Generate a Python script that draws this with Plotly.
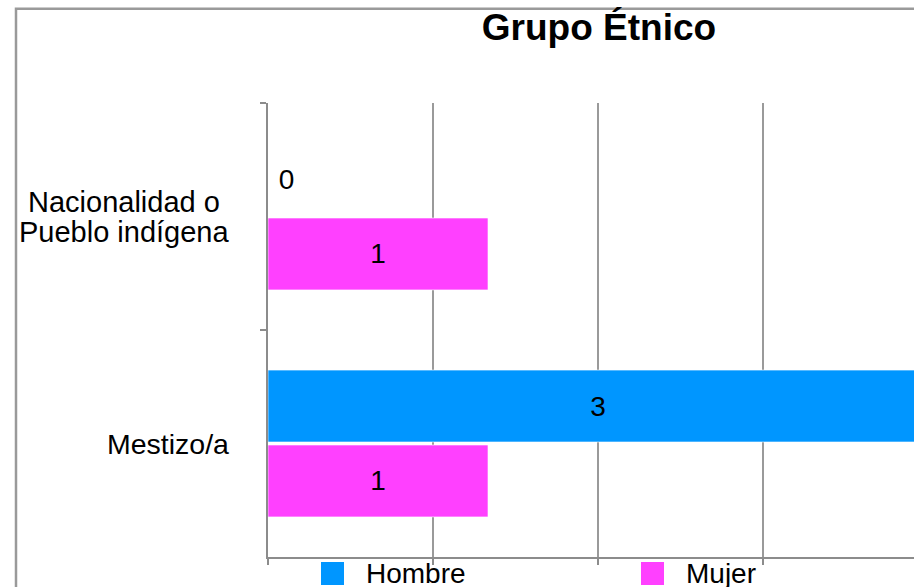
import plotly.graph_objects as go

# data
categories = ["Nacionalidad o Pueblo indígena", "Mestizo/a"]
label_lines = [["Nacionalidad o", "Pueblo indígena"], ["Mestizo/a"]]
series_names = ["Hombre", "Mujer"]
hombre = [0, 3]
mujer = [1, 1]
colors = ["#0096FF", "#FF40FF"]

FONT = "Liberation Sans, Arial, sans-serif"
W, H = 914, 587
L, T, B = 268, 103, 30
pw, ph = W - L, H - T - B


def px_x(x):
    return (x - L) / pw


def px_y(y):
    return (H - B - y) / ph


fig = go.Figure()
for name, vals, col in zip(series_names, [hombre, mujer], colors):
    fig.add_trace(go.Bar(
        y=categories,
        x=vals,
        name=name,
        orientation="h",
        marker=dict(color=col, line=dict(color="rgba(255,255,255,0.6)", width=1)),
        # zero values sit just right of the axis, like the original
        text=[("\u00a0" + str(v)) if v == 0 else str(v) for v in vals],
        textposition=["outside" if v == 0 else "inside" for v in vals],
        insidetextanchor="middle",
        textfont=dict(family=FONT, size=28, color="black"),
        showlegend=False,
    ))

fig.update_layout(
    width=W, height=H,
    margin=dict(l=L, r=0, t=T, b=B),
    paper_bgcolor="white",
    plot_bgcolor="white",
    barmode="group",
    bargap=0.34,
    bargroupgap=0.04,
    font=dict(family=FONT, size=29, color="black"),
    title=dict(text="<b>Grupo Étnico</b>", x=px_x(599), xref="paper",
               xanchor="center", y=1 - 27 / H, yref="container", yanchor="middle",
               font=dict(family=FONT, size=37, color="black")),
)

fig.update_xaxes(
    range=[0, (W - L) / 220],
    tick0=0, dtick=0.75,
    showgrid=True, gridcolor="#9a9a9a", gridwidth=2,
    zeroline=False,
    showline=True, linecolor="#8c8c8c", linewidth=2,
    ticks="outside", ticklen=6, tickwidth=2, tickcolor="#8c8c8c",
    showticklabels=False,
)
fig.update_yaxes(
    autorange="reversed",
    showgrid=False, zeroline=False,
    showline=True, linecolor="#8c8c8c", linewidth=2,
    ticks="outside", tickson="boundaries", ticklen=6, tickwidth=2, tickcolor="#8c8c8c",
    showticklabels=False,
)

# category labels
for cat, lines in zip(categories, label_lines):
    if len(lines) == 2:
        for ln, shift in zip(lines, [15, -15]):
            fig.add_annotation(x=px_x(124), xref="paper", y=cat, yref="y",
                               text=ln, showarrow=False, xanchor="center",
                               yanchor="middle", yshift=shift, borderpad=0)
    else:
        fig.add_annotation(x=px_x(230), xref="paper", y=cat, yref="y",
                           text=lines[0], showarrow=False, xanchor="right",
                           yanchor="middle", borderpad=0, font=dict(size=28.5))

# outer frame
fig.add_shape(type="rect", xref="paper", yref="paper",
              x0=px_x(16), x1=1.2, y0=-0.3, y1=px_y(8.7),
              line=dict(color="#9a9a9a", width=2.5))

# legend drawn by hand
for name, col, sx, tx in zip(series_names, colors, [321, 641], [365, 685]):
    fig.add_shape(type="rect", xref="paper", yref="paper",
                  x0=px_x(sx), x1=px_x(sx + 23), y0=px_y(585), y1=px_y(562),
                  fillcolor=col, line=dict(width=0))
    fig.add_annotation(x=px_x(tx), xref="paper", y=px_y(557), yref="paper",
                       text=name, showarrow=False, xanchor="left", yanchor="top",
                       borderpad=0, font=dict(size=28))

fig.write_html("out.html", config={"displayModeBar": False},
               post_script="document.body.style.margin='0';")
